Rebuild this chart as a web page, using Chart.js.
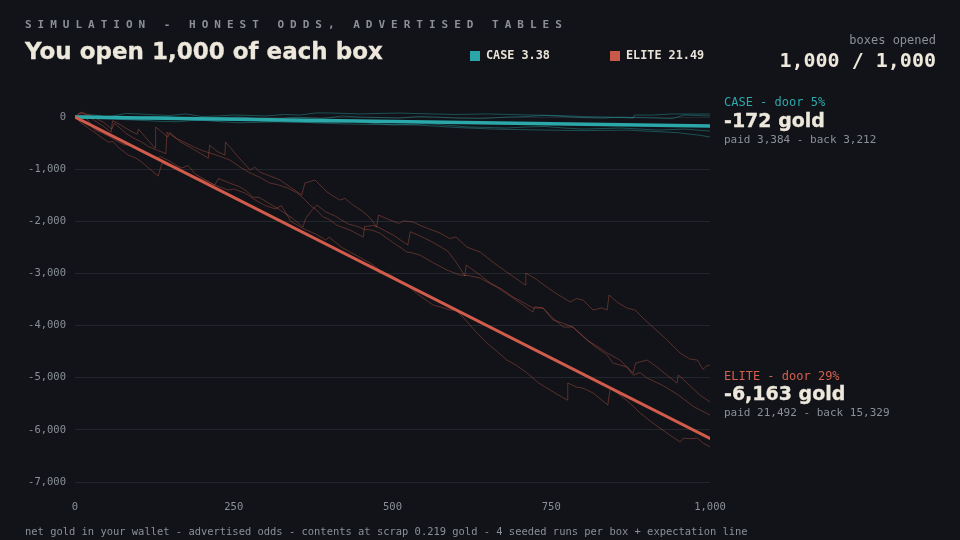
<!DOCTYPE html>
<html>
<head>
<meta charset="utf-8">
<script src="https://cdn.jsdelivr.net/npm/chart.js@4.4.1/dist/chart.umd.min.js"></script>
<style>
  html,body{margin:0;padding:0;background:#111318;}
  #wrap{position:relative;width:960px;height:540px;overflow:hidden;background:#111318;}
  canvas{position:absolute;left:0;top:0;}
  .t{position:absolute;white-space:nowrap;line-height:1;}
  .mono{font-family:"DejaVu Sans Mono",monospace;}
  .heavy{font-family:"DejaVu Sans",sans-serif;font-weight:bold;-webkit-text-stroke:0.3px #ede7dc;}
  .sq{position:absolute;width:10px;height:10px;}
</style>
</head>
<body>
<div id="wrap">
  <canvas id="c" width="960" height="540"></canvas>
  <div class="t mono" id="kicker" style="left:25px;top:19px;font-size:11px;font-weight:bold;letter-spacing:6px;color:#8b9098;"></div>
  <div class="t heavy" id="title" style="left:25px;top:40px;font-size:23px;color:#ede7dc;"></div>
  <div class="sq" style="left:470px;top:51px;background:#2aa5a8;"></div>
  <div class="t mono" id="legCase" style="left:486px;top:50px;font-size:11.8px;font-weight:bold;color:#e9e3d8;"></div>
  <div class="sq" style="left:610px;top:51px;background:#c8594b;"></div>
  <div class="t mono" id="legElite" style="left:626px;top:50px;font-size:11.8px;font-weight:bold;color:#e9e3d8;"></div>
  <div class="t mono" id="openedLbl" style="right:24px;top:34px;font-size:12px;color:#8b9098;"></div>
  <div class="t mono" id="openedVal" style="right:24px;top:50px;font-size:20px;font-weight:bold;color:#ede7dc;"></div>
  <div class="t mono" id="caseHead" style="left:724px;top:96px;font-size:12px;color:#2ba8aa;"></div>
  <div class="t heavy" id="caseNet" style="left:724px;top:111px;font-size:19px;color:#ede7dc;"></div>
  <div class="t mono" id="casePaid" style="left:724px;top:134px;font-size:11px;color:#8b9098;"></div>
  <div class="t mono" id="eliteHead" style="left:724px;top:370px;font-size:12px;color:#d2604f;"></div>
  <div class="t heavy" id="eliteNet" style="left:724px;top:384px;font-size:19px;color:#ede7dc;"></div>
  <div class="t mono" id="elitePaid" style="left:724px;top:407px;font-size:11px;color:#8b9098;"></div>
  <div class="t mono" id="footer" style="left:25px;top:526px;font-size:10.45px;color:#8b9098;"></div>
</div>
<script>
// ---------- data ----------
const boxNames   = ["CASE", "ELITE"];
const boxPrices  = [3.38, 21.49];
const doorPct    = [5, 29];
const netGold    = [-172, -6163];
const paidGold   = [3384, 21492];
const backGold   = [3212, 15329];
const boxesOpened = 1000;
const boxesTotal  = 1000;
const xTicks = [0, 250, 500, 750, 1000];
const yTicks = [0, -1000, -2000, -3000, -4000, -5000, -6000, -7000];

// expectation lines [boxes, gold]
const caseExpect  = [[0, 0], [1000, -172]];
const eliteExpect = [[0, 0], [1000, -6163]];

// seeded runs [boxes opened, net gold]
const caseRun1 = [[0,0],[15,30],[30,40],[45,10],[60,20],[80,70],[100,60],[130,40],[150,30],[175,60],[200,10],[225,20],[250,40],[280,30],[300,20],[330,50],[354,38],[380,80],[406,77],[450,60],[480,70],[512,77],[560,60],[600,50],[650,60],[721,38],[760,30],[800,10],[840,0],[879,-19],[881,38],[910,38],[940,60],[969,58],[1000,58]];
const caseRun2 = [[0,0],[20,10],[40,20],[65,-10],[90,-20],[115,10],[140,10],[170,-20],[200,-30],[230,-10],[260,0],[290,-30],[320,-40],[340,-10],[360,-10],[390,-30],[420,20],[450,0],[480,-10],[510,-20],[540,10],[570,0],[600,-20],[640,-30],[680,0],[710,10],[740,30],[770,10],[800,-10],[830,-20],[860,0],[890,-10],[920,-20],[940,-30],[960,40],[980,30],[1000,20]];
const caseRun3 = [[0,0],[25,-10],[50,-20],[75,-40],[100,-50],[125,-30],[150,-20],[175,-40],[200,-60],[230,-50],[260,-40],[290,-70],[320,-90],[350,-100],[380,-110],[410,-100],[440,-90],[470,-120],[500,-150],[530,-140],[560,-130],[590,-160],[620,-190],[650,-200],[680,-210],[710,-190],[740,-180],[770,-210],[800,-230],[830,-220],[860,-210],[890,-230],[920,-250],[940,-240],[960,-230],[980,-250],[1000,-268]];
const caseRun4 = [[0,0],[20,-20],[40,-30],[70,-45],[100,-60],[130,-80],[160,-90],[180,-70],[200,-60],[230,-90],[260,-110],[290,-100],[320,-90],[354,-96],[390,-115],[420,-130],[460,-140],[500,-145],[539,-153],[570,-175],[600,-200],[630,-215],[658,-230],[700,-240],[737,-249],[770,-255],[800,-260],[840,-255],[870,-250],[900,-270],[932,-288],[950,-300],[970,-330],[985,-350],[1000,-383]];

const eliteRunA = [[0,0],[6,60],[12,90],[20,30],[30,-60],[45,-180],[57,-290],[59,-70],[72,-150],[85,-250],[98,-330],[100,-230],[112,-400],[126,-595],[127,-190],[138,-300],[146,-384],[150,-300],[165,-470],[184,-600],[198,-700],[210,-790],[212,-540],[224,-660],[236,-730],[237,-480],[244,-575],[258,-780],[276,-1017],[283,-960],[291,-1055],[305,-1120],[323,-1208],[339,-1343],[357,-1496],[362,-1266],[378,-1208],[397,-1439],[417,-1592],[425,-1560],[438,-1688],[452,-1800],[465,-1937],[475,-2110],[478,-1880],[496,-1975],[510,-2040],[518,-1990],[532,-2014],[550,-2110],[575,-2225],[590,-2330],[600,-2300],[617,-2493],[638,-2589],[660,-2800],[680,-2973],[695,-3100],[709,-3222],[710,-2992],[725,-3100],[743,-3261],[760,-3400],[780,-3548],[790,-3480],[800,-3510],[816,-3702],[830,-3660],[838,-3702],[841,-3414],[855,-3560],[869,-3663],[882,-3702],[895,-3860],[910,-4028],[930,-4250],[953,-4526],[968,-4640],[980,-4661],[989,-4840],[994,-4780],[1000,-4757]];
const eliteRunB = [[0,0],[8,90],[16,60],[25,40],[35,-40],[45,-100],[58,-230],[62,-120],[70,-200],[82,-330],[95,-420],[105,-480],[115,-560],[130,-640],[143,-700],[145,-290],[158,-400],[170,-470],[185,-560],[200,-640],[215,-700],[230,-760],[244,-825],[260,-960],[276,-1074],[290,-1150],[307,-1266],[320,-1300],[335,-1362],[350,-1458],[360,-1560],[370,-1688],[380,-1780],[391,-1918],[400,-1960],[412,-2071],[433,-2167],[454,-2302],[456,-2100],[470,-2080],[480,-2129],[501,-2263],[524,-2455],[528,-2200],[540,-2260],[560,-2380],[586,-2560],[600,-2780],[614,-3050],[616,-2839],[638,-3030],[654,-3184],[672,-3300],[690,-3452],[705,-3550],[721,-3663],[737,-3663],[753,-3894],[770,-3960],[784,-4028],[806,-4277],[820,-4380],[838,-4526],[858,-4661],[879,-4910],[883,-4718],[901,-4661],[915,-4780],[926,-4891],[948,-5102],[950,-4948],[964,-5102],[984,-5332],[1000,-5466]];
const eliteRunC = [[0,0],[8,40],[15,30],[24,-120],[31,-250],[42,-300],[55,-380],[67,-470],[79,-537],[88,-520],[100,-640],[113,-720],[126,-786],[135,-760],[150,-850],[160,-930],[168,-978],[178,-930],[190,-1100],[205,-1200],[220,-1304],[226,-1180],[244,-1266],[260,-1343],[270,-1420],[280,-1534],[290,-1540],[302,-1630],[323,-1784],[342,-1937],[359,-2110],[363,-1950],[372,-1800],[381,-1688],[395,-1820],[410,-1900],[430,-2050],[445,-2100],[455,-2150],[468,-2170],[480,-2225],[500,-2400],[523,-2589],[530,-2600],[543,-2647],[565,-2800],[586,-2935],[606,-3030],[620,-3040],[638,-3088],[664,-3261],[690,-3472],[705,-3600],[721,-3740],[724,-3640],[737,-3663],[752,-3850],[769,-4028],[784,-4028],[800,-4200],[816,-4373],[838,-4565],[847,-4718],[869,-4795],[879,-4950],[890,-4900],[900,-5000],[926,-5150],[950,-5330],[975,-5560],[1000,-5716]];
const eliteRunD = [[0,0],[10,-120],[20,-200],[35,-330],[52,-480],[60,-470],[70,-600],[84,-729],[95,-780],[105,-863],[118,-1000],[131,-1132],[137,-882],[150,-950],[160,-960],[173,-1055],[190,-1150],[210,-1247],[225,-1330],[241,-1400],[250,-1380],[268,-1458],[285,-1600],[300,-1700],[315,-1760],[325,-1700],[340,-2000],[358,-2130],[380,-2250],[395,-2360],[400,-2300],[420,-2500],[435,-2600],[450,-2700],[465,-2800],[480,-2935],[500,-3050],[520,-3200],[540,-3400],[564,-3606],[575,-3640],[590,-3700],[600,-3700],[611,-3836],[630,-4100],[649,-4335],[665,-4500],[680,-4661],[695,-4760],[712,-4910],[730,-5100],[750,-5250],[775,-5428],[776,-5102],[790,-5180],[800,-5200],[816,-5294],[839,-5524],[843,-5198],[860,-5350],[875,-5500],[890,-5677],[910,-5870],[932,-6061],[953,-6234],[958,-6160],[970,-6170],[980,-6157],[990,-6260],[1000,-6329]];

// ---------- styles ----------
const TEAL = '#2aa8aa', SALMON = '#d25c4c';
const TEAL_RUN = 'rgba(42,168,170,0.42)', SALMON_RUN = 'rgba(205,90,75,0.40)';
const GRAY = '#8b9098';
const fmt = v => Math.round(v).toLocaleString('en-US');

// ---------- texts ----------
document.getElementById('kicker').textContent = 'SIMULATION - HONEST ODDS, ADVERTISED TABLES';
document.getElementById('title').textContent = 'You open ' + fmt(boxesTotal) + ' of each box';
document.getElementById('legCase').textContent = boxNames[0] + ' ' + boxPrices[0].toFixed(2);
document.getElementById('legElite').textContent = boxNames[1] + ' ' + boxPrices[1].toFixed(2);
document.getElementById('openedLbl').textContent = 'boxes opened';
document.getElementById('openedVal').textContent = fmt(boxesOpened) + ' / ' + fmt(boxesTotal);
document.getElementById('caseHead').textContent = boxNames[0] + ' - door ' + doorPct[0] + '%';
document.getElementById('caseNet').textContent = fmt(netGold[0]) + ' gold';
document.getElementById('casePaid').textContent = 'paid ' + fmt(paidGold[0]) + ' - back ' + fmt(backGold[0]);
document.getElementById('eliteHead').textContent = boxNames[1] + ' - door ' + doorPct[1] + '%';
document.getElementById('eliteNet').textContent = fmt(netGold[1]) + ' gold';
document.getElementById('elitePaid').textContent = 'paid ' + fmt(paidGold[1]) + ' - back ' + fmt(backGold[1]);
document.getElementById('footer').textContent = 'net gold in your wallet - advertised odds - contents at scrap 0.219 gold - 4 seeded runs per box + expectation line';

// ---------- chart ----------
const pts = arr => arr.map(p => ({x: p[0], y: p[1]}));
const runDs = (arr, color) => ({data: pts(arr), borderColor: color, borderWidth: 1, pointRadius: 0, tension: 0, order: 2});
const expDs = (arr, color, w) => ({data: pts(arr), borderColor: color, borderWidth: w, pointRadius: 0, tension: 0, order: 0, borderCapStyle: 'round'});

new Chart(document.getElementById('c'), {
  type: 'line',
  data: {
    datasets: [
      expDs(eliteExpect, SALMON, 3),
      expDs(caseExpect, TEAL, 3.5),
      runDs(eliteRunA, SALMON_RUN), runDs(eliteRunB, SALMON_RUN), runDs(eliteRunC, SALMON_RUN), runDs(eliteRunD, SALMON_RUN),
      runDs(caseRun1, TEAL_RUN), runDs(caseRun2, TEAL_RUN), runDs(caseRun3, TEAL_RUN), runDs(caseRun4, TEAL_RUN)
    ]
  },
  options: {
    responsive: false,
    animation: false,
    devicePixelRatio: 1,
    layout: {padding: {left: 0, right: 250, top: 91, bottom: 0}},
    plugins: {legend: {display: false}, tooltip: {enabled: false}},
    scales: {
      x: {
        type: 'linear', min: 0, max: 1000,
        afterBuildTicks: s => { s.ticks = xTicks.map(v => ({value: v})); },
        afterFit: s => { s.height = 58; },
        grid: {display: false, drawTicks: false},
        border: {display: false},
        ticks: {padding: 19, color: GRAY, font: {family: 'DejaVu Sans Mono', size: 10.5}, callback: v => fmt(v), maxRotation: 0}
      },
      y: {
        type: 'linear', min: -7000, max: 500,
        afterBuildTicks: s => { s.ticks = yTicks.map(v => ({value: v})); },
        afterFit: s => { s.width = 75; },
        grid: {color: '#22262d', lineWidth: 1, drawTicks: false},
        border: {display: false},
        ticks: {padding: 9, color: GRAY, font: {family: 'DejaVu Sans Mono', size: 10.5}, callback: v => fmt(v)}
      }
    }
  }
});
</script>
</body>
</html>
